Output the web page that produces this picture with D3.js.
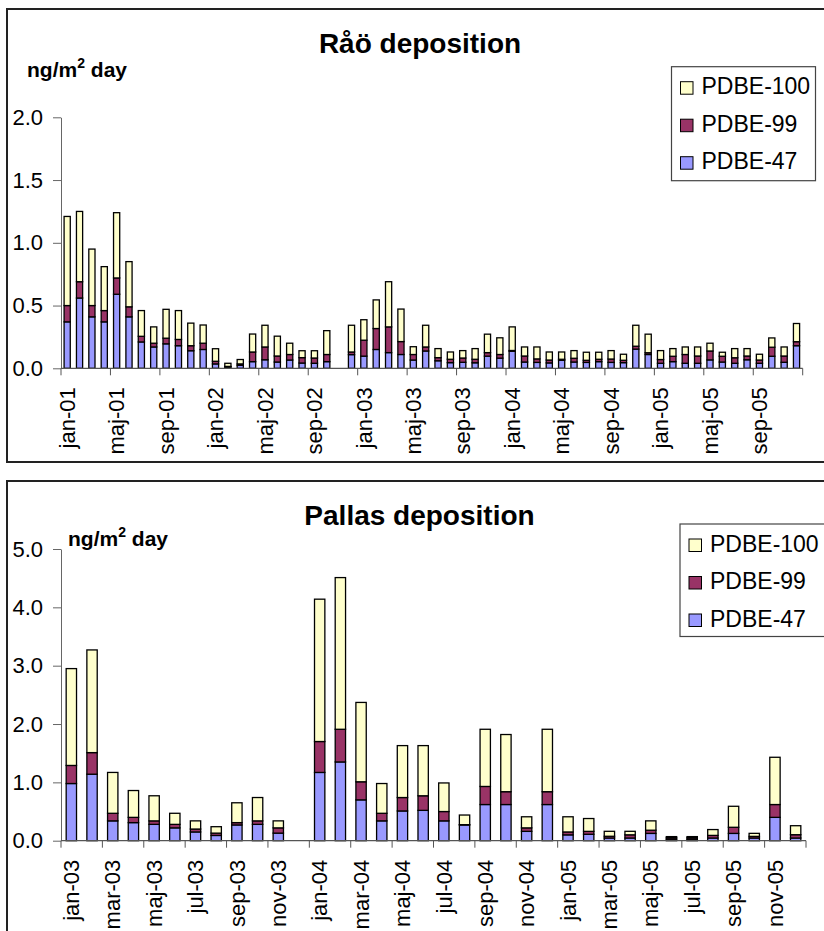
<!DOCTYPE html>
<html>
<head>
<meta charset="utf-8">
<script src="https://cdn.jsdelivr.net/npm/d3@7"></script>
<style>
  html, body { margin: 0; padding: 0; background: #fff; }
  svg { display: block; }
  text { font-family: "Liberation Sans", Arial, sans-serif; fill: #000; }
</style>
</head>
<body>
<svg id="chart" width="824" height="931"></svg>
<script>
// ---- Data ---------------------------------------------------------------
const monthNames = ["jan","feb","mar","apr","maj","jun","jul","aug","sep","okt","nov","dec"];
const raoYears = ["01","02","03","04","05"];
const pallasYears = ["03","04","05"];
const seriesNames = ["PDBE-100", "PDBE-99", "PDBE-47"];   // legend order
const seriesColors = { "PDBE-47": "#9999FF", "PDBE-99": "#993366", "PDBE-100": "#FFFFCC" };

// Råö, monthly deposition jan-01 .. dec-05 (ng/m2 day), null = no sample
const raoPDBE47 = [0.37,0.56,0.41,0.37,0.59,0.41,0.21,0.17,0.195,0.18,0.14,0.15,
  0.035,0.01,0.024,0.053,0.068,0.05,0.066,0.042,0.04,0.053,null,0.109,
  0.097,0.15,0.125,0.11,0.066,0.138,0.06,0.045,0.048,0.044,0.097,0.081,
  0.136,0.05,0.047,0.043,0.064,0.05,0.047,0.053,0.047,0.045,0.153,0.11,
  0.04,0.053,0.04,0.04,0.067,0.05,0.04,0.068,0.04,0.096,0.048,0.18];
const raoPDBE99 = [0.13,0.13,0.09,0.09,0.13,0.08,0.045,0.03,0.045,0.05,0.04,0.05,
  0.021,0.005,0.011,0.077,0.102,0.048,0.044,0.043,0.042,0.057,null,0.021,
  0.127,0.167,0.205,0.103,0.044,0.032,0.025,0.027,0.034,0.028,0.028,0.029,
  0.006,0.048,0.028,0.023,0.008,0.03,0.017,0.019,0.027,0.019,0.023,0.014,
  0.03,0.043,0.07,0.058,0.071,0.046,0.044,0.03,0.026,0.072,0.05,0.032];
const raoPDBE100 = [0.71,0.56,0.45,0.35,0.52,0.36,0.205,0.13,0.23,0.23,0.18,0.145,
  0.10,0.025,0.035,0.143,0.173,0.158,0.09,0.055,0.058,0.19,null,0.213,
  0.163,0.228,0.36,0.259,0.062,0.173,0.072,0.058,0.059,0.085,0.147,0.133,
  0.188,0.072,0.095,0.064,0.058,0.061,0.064,0.056,0.067,0.048,0.167,0.148,
  0.071,0.061,0.06,0.072,0.062,0.032,0.073,0.059,0.046,0.074,0.072,0.145];

// Pallas, monthly deposition jan-03 .. dec-05 (ng/m2 day)
const pallasPDBE47 = [0.98,1.14,0.34,0.31,0.28,0.22,0.15,0.09,0.27,0.28,0.13,null,
  1.17,1.35,0.70,0.34,0.51,0.52,0.34,0.27,0.62,0.62,0.16,0.62,
  0.10,0.11,0.046,0.046,0.125,0.025,0.025,0.046,0.125,0.046,0.40,0.046];
const pallasPDBE99 = [0.31,0.37,0.13,0.09,0.06,0.06,0.05,0.04,0.04,0.06,0.09,null,
  0.53,0.56,0.31,0.13,0.23,0.25,0.16,0.005,0.31,0.22,0.06,0.22,
  0.05,0.05,0.03,0.055,0.055,0.025,0.025,0.045,0.105,0.028,0.22,0.057];
const pallasPDBE100 = [1.66,1.76,0.70,0.46,0.43,0.19,0.14,0.11,0.34,0.40,0.12,null,
  2.44,2.60,1.36,0.51,0.89,0.86,0.49,0.165,0.98,0.98,0.19,1.07,
  0.26,0.22,0.085,0.06,0.16,0.02,0.02,0.10,0.36,0.052,0.81,0.154];

const raoTicks = [0, 0.5, 1.0, 1.5, 2.0];
const pallasTicks = [0, 1, 2, 3, 4, 5];

// ---- Drawing --------------------------------------------------------------
const svg = d3.select("#chart");
const FONT = '"Liberation Sans", Arial, sans-serif';

function drawPanel(cfg) {
  const g = svg.append("g");

  // outer chart frame (continues past the page edge on the right)
  g.append("rect")
    .attr("x", cfg.frame.x).attr("y", cfg.frame.y)
    .attr("width", cfg.frame.w).attr("height", cfg.frame.h)
    .attr("fill", "#fff").attr("stroke", "#222").attr("stroke-width", 2);

  const cats = cfg.years.flatMap(y => monthNames.map(m => `${m}-${y}`));
  const rows = cats.map((c, i) => ({
    cat: c,
    "PDBE-47": cfg.p47[i], "PDBE-99": cfg.p99[i], "PDBE-100": cfg.p100[i],
    missing: cfg.p47[i] == null
  }));

  const x = d3.scaleBand().domain(cats)
    .range([cfg.plot.x0, cfg.plot.x1])
    .paddingInner(0.5).paddingOuter(0.25);
  const y = d3.scaleLinear().domain([0, cfg.ymax])
    .range([cfg.plot.y0, cfg.plot.ytop]);

  // stacked bars
  const stack = d3.stack().keys(["PDBE-47", "PDBE-99", "PDBE-100"])
    .value((d, k) => d[k] == null ? 0 : d[k]);
  const layers = stack(rows);
  g.append("g").selectAll("g").data(layers).join("g")
    .attr("fill", d => seriesColors[d.key])
    .selectAll("rect")
    .data(d => d.filter(p => !p.data.missing))
    .join("rect")
      .attr("x", d => x(d.data.cat))
      .attr("width", x.bandwidth())
      .attr("y", d => y(d[1]))
      .attr("height", d => y(d[0]) - y(d[1]))
      .attr("stroke", "#000").attr("stroke-width", 1.3);

  // y axis
  const yAxis = d3.axisLeft(y).tickValues(cfg.yticks)
    .tickFormat(d3.format(".1f")).tickSize(8).tickSizeOuter(0).tickPadding(10);
  const ya = g.append("g").attr("transform", `translate(${cfg.plot.x0},0)`).call(yAxis);
  ya.select(".domain").attr("stroke", "#666");
  ya.selectAll(".tick line").attr("stroke", "#666");
  ya.selectAll("text").attr("font-size", 22).attr("font-family", FONT);

  // x axis: ticks on category boundaries, labels on every n-th category
  const step = x.step();
  const nb = cats.length;
  const boundaries = d3.range(0, nb + 1, cfg.every).map(i => cfg.plot.x0 + i * step);
  const xa = g.append("g");
  xa.append("line")
    .attr("x1", cfg.plot.x0).attr("x2", cfg.plot.x1)
    .attr("y1", cfg.plot.y0).attr("y2", cfg.plot.y0)
    .attr("stroke", "#555").attr("stroke-width", 1.2);
  xa.selectAll("line.tk").data(boundaries).join("line").attr("class", "tk")
    .attr("x1", d => d).attr("x2", d => d)
    .attr("y1", cfg.plot.y0).attr("y2", cfg.plot.y0 + 7)
    .attr("stroke", "#555").attr("stroke-width", 1);
  xa.selectAll("text").data(cats.filter((c, i) => i % cfg.every === 0)).join("text")
    .attr("transform", d => `translate(${x(d) + x.bandwidth() / 2},${cfg.plot.y0 + 19}) rotate(-90)`)
    .attr("text-anchor", "end").attr("dy", "0.35em")
    .attr("font-size", 22)
    .text(d => d);

  // title
  g.append("text").attr("x", cfg.title.x).attr("y", cfg.title.y)
    .attr("text-anchor", "middle").attr("font-size", 28).attr("font-weight", "bold")
    .text(cfg.title.text);

  // unit label
  const u = g.append("text").attr("x", cfg.unit.x).attr("y", cfg.unit.y)
    .attr("font-size", 21).attr("font-weight", "bold");
  u.append("tspan").text("ng/m");
  u.append("tspan").attr("font-size", 14).attr("dy", -9).text("2");
  u.append("tspan").attr("dy", 9).text(" day");

  // legend
  const L = cfg.legend;
  const lg = g.append("g");
  lg.append("rect").attr("x", L.x).attr("y", L.y).attr("width", L.w).attr("height", L.h)
    .attr("fill", "#fff").attr("stroke", "#444").attr("stroke-width", 1.2);
  const items = lg.selectAll("g.item").data(seriesNames).join("g").attr("class", "item")
    .attr("transform", (d, i) => `translate(${L.x + 9},${L.y + 15 + i * 37.5})`);
  items.append("rect").attr("width", 12.5).attr("height", 12.5)
    .attr("fill", d => seriesColors[d]).attr("stroke", "#000").attr("stroke-width", 1);
  items.append("text").attr("x", 21).attr("y", 12.6)
    .attr("font-size", 23).text(d => d);
}

drawPanel({
  frame: { x: 7, y: 9, w: 840, h: 453 },
  plot: { x0: 61, x1: 802.7, y0: 368.3, ytop: 117.3 },
  ymax: 2.0, yticks: raoTicks, every: 4, years: raoYears,
  p47: raoPDBE47, p99: raoPDBE99, p100: raoPDBE100,
  title: { text: "Råö deposition", x: 420, y: 53.3 },
  unit: { x: 27, y: 77 },
  legend: { x: 671.5, y: 66.7, w: 144, h: 114 }
});

drawPanel({
  frame: { x: 7, y: 481, w: 840, h: 480 },
  plot: { x0: 61, x1: 806, y0: 840.7, ytop: 549 },
  ymax: 5.0, yticks: pallasTicks, every: 2, years: pallasYears,
  p47: pallasPDBE47, p99: pallasPDBE99, p100: pallasPDBE100,
  title: { text: "Pallas deposition", x: 419.5, y: 525 },
  unit: { x: 68, y: 546 },
  legend: { x: 680, y: 524, w: 150, h: 112.5 }
});
</script>
</body>
</html>
